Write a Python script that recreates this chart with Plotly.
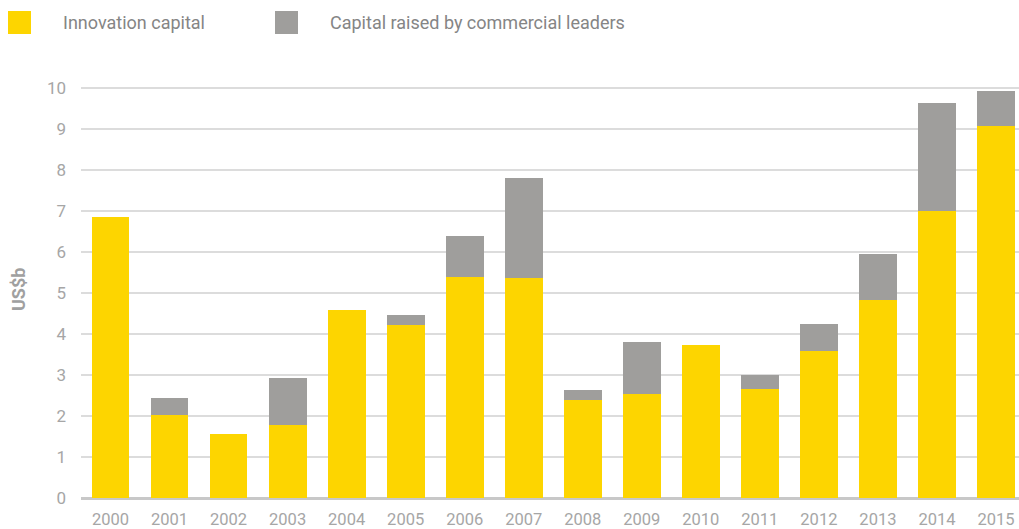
import plotly.graph_objects as go

years = [str(y) for y in range(2000, 2016)]
innovation_capital = [6.85, 2.02, 1.56, 1.78, 4.59, 4.22, 5.39, 5.37,
                      2.39, 2.54, 3.73, 2.66, 3.59, 4.83, 7.00, 9.07]
commercial_leaders = [0.00, 0.42, 0.00, 1.15, 0.00, 0.24, 1.00, 2.43,
                      0.24, 1.26, 0.00, 0.34, 0.65, 1.12, 2.63, 0.86]
y_ticks = list(range(0, 11))

series_names = ["Innovation capital", "Capital raised by commercial leaders"]
series_colors = ["#FDD500", "#9F9E9C"]
font_family = "Roboto"
label_grey = "#a6a6a6"

fig = go.Figure()
fig.add_trace(go.Bar(x=years, y=innovation_capital, name=series_names[0],
                     marker=dict(color=series_colors[0], line=dict(width=0))))
fig.add_trace(go.Bar(x=years, y=commercial_leaders, name=series_names[1],
                     marker=dict(color=series_colors[1], line=dict(width=0))))

W, H = 1019, 529
ml, mr, mt, mb = 81, 0, 80, 31

fig.update_layout(
    width=W, height=H,
    barmode="stack", bargap=0.36,
    showlegend=False,
    plot_bgcolor="white", paper_bgcolor="white",
    margin=dict(l=ml, r=mr, t=mt, b=mb, pad=0),
    font=dict(family=font_family, color=label_grey, size=16),
)
fig.update_xaxes(
    type="category", range=[-0.5, 15.39], automargin=False,
    showgrid=False, showline=False, ticks="",
    tickfont=dict(size=16.5, color=label_grey),
    ticklabelstandoff=9,
)
fig.update_yaxes(
    range=[0, 10.2], tickvals=y_ticks, automargin=False,
    showgrid=True, gridcolor="#DCDCDC", gridwidth=1.5,
    zeroline=True, zerolinecolor="#C8C8C8", zerolinewidth=2.5,
    showline=False, ticks="",
    tickfont=dict(size=17, color=label_grey),
    ticklabelstandoff=14,
)

plot_w = W - ml - mr
plot_h = H - mt - mb

# Axis title drawn as a rotated annotation
fig.add_annotation(
    text="<b>US$b</b>", textangle=-90, showarrow=False,
    xref="paper", yref="paper",
    x=(18 - ml) / plot_w, y=(H - mb - 290) / plot_h,
    xanchor="center", yanchor="middle",
    font=dict(size=18, color="#A0A0A0", family=font_family),
)

# Legend: coloured squares with labels along the top edge
legend_items = [(8, 61), (275, 328)]
for (sq_x, txt_x), name, color in zip(legend_items, series_names, series_colors):
    fig.add_shape(
        type="rect", xref="paper", yref="paper",
        x0=(sq_x - ml) / plot_w, x1=(sq_x + 23 - ml) / plot_w,
        y0=(H - mb - 34) / plot_h, y1=(H - mb - 11) / plot_h,
        fillcolor=color, line=dict(width=0), layer="above",
    )
    fig.add_annotation(
        text=name, showarrow=False, xref="paper", yref="paper",
        x=(txt_x - ml) / plot_w, y=(H - mb - 22.5) / plot_h,
        xanchor="left", yanchor="middle",
        font=dict(size=18, color="#858585", family=font_family),
    )

fig.write_html("out.html")
